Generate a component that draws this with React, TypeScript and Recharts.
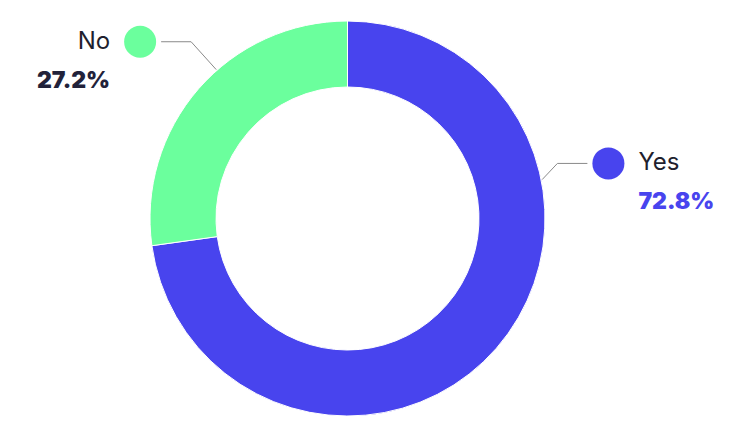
import { Cell, Pie, PieChart } from "recharts";

const answers = ["Yes", "No"];
const shares = [72.8, 27.2];
const colors = ["#4844EE", "#6BFF9D"];
const percentColors = ["#4844EE", "#22223A"];

// leader line geometry per slice: anchor angle on the rim, elbow angle + radius, side
const leaders = [
  { anchor: 11.3, elbow: 14.7, elbowR: 217, side: 1 },
  { anchor: 131.4, elbow: 131.5, elbowR: 236, side: -1 },
];

const data = answers.map((name, i) => ({ name, value: shares[i] }));

const RAD = Math.PI / 180;

function renderLabel(props: any) {
  const { cx, cy, outerRadius, index } = props;
  const l = leaders[index];
  const ax = cx + (outerRadius + 1) * Math.cos(l.anchor * RAD);
  const ay = cy - (outerRadius + 1) * Math.sin(l.anchor * RAD);
  const ex = cx + l.elbowR * Math.cos(l.elbow * RAD);
  const ey = cy - l.elbowR * Math.sin(l.elbow * RAD);
  const hx = ex + l.side * 30;
  const dotX = hx + l.side * 21;
  const textX = dotX + l.side * 30;
  const anchor = l.side > 0 ? "start" : "end";
  return (
    <g>
      <polyline
        points={`${ax},${ay} ${ex},${ey} ${hx},${ey}`}
        fill="none"
        stroke="#8a8a8a"
        strokeWidth={1}
      />
      <circle cx={dotX} cy={ey} r={16} fill={colors[index]} />
      <text
        x={textX}
        y={ey + 7}
        textAnchor={anchor}
        fill="#1f1f2e"
        fontSize={24}
        fontFamily="Inter, sans-serif"
      >
        {answers[index]}
      </text>
      <text
        x={textX}
        y={ey + 46}
        textAnchor={anchor}
        fill={percentColors[index]}
        fontSize={23}
        fontWeight={900}
        fontFamily="Inter, sans-serif"
      >
        {`${shares[index].toFixed(1)}%`}
      </text>
    </g>
  );
}

export default function App() {
  return (
    <div style={{ margin: -8, width: 729, height: 436, background: "#ffffff" }}>
      <PieChart width={729} height={436} margin={{ top: 0, right: 0, bottom: 0, left: 0 }}>
        <Pie
          data={data}
          dataKey="value"
          nameKey="name"
          cx={347.5}
          cy={218.5}
          innerRadius={131.5}
          outerRadius={197.5}
          startAngle={90}
          endAngle={-270}
          stroke="#ffffff"
          strokeWidth={1}
          label={renderLabel}
          labelLine={false}
          isAnimationActive={false}
        >
          {data.map((d, i) => (
            <Cell key={d.name} fill={colors[i]} />
          ))}
        </Pie>
      </PieChart>
    </div>
  );
}
